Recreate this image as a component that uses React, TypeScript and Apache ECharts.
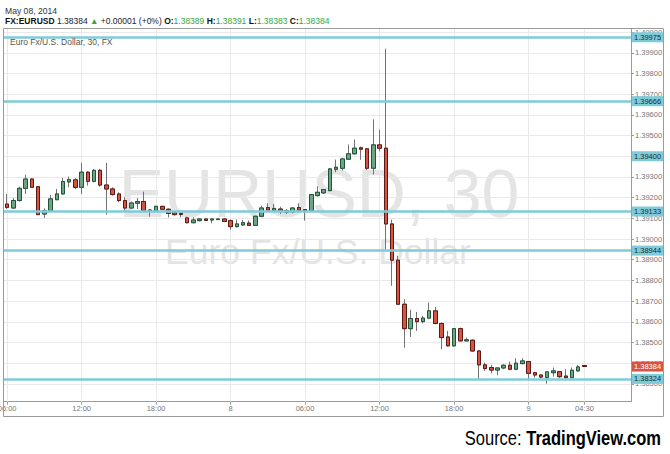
import React, { useEffect, useRef } from "react";
import * as echarts from "echarts";

const halfHours = [
  "00:00","00:30","01:00","01:30","02:00","02:30","03:00","03:30","04:00","04:30","05:00","05:30",
  "06:00","06:30","07:00","07:30","08:00","08:30","09:00","09:30","10:00","10:30","11:00","11:30",
  "12:00","12:30","13:00","13:30","14:00","14:30","15:00","15:30","16:00","16:30","17:00","17:30",
  "18:00","18:30","19:00","19:30","20:00","20:30","21:00","21:30","22:00","22:30","23:00","23:30",
];
const categories = [
  ...halfHours.slice(12).map((t) => "05-07 " + t),
  ...halfHours.map((t) => "05-08 " + t),
  ...halfHours.slice(0, 17).map((t) => "05-09 " + t),
];

const xTickCategories = ["05-07 06:00","05-07 12:00","05-07 18:00","05-08 00:00","05-08 06:00","05-08 12:00","05-08 18:00","05-09 00:00","05-09 04:30"];
const xTickLabels = ["06:00","12:00","18:00","8","06:00","12:00","18:00","9","04:30"];

const yTicks = [1.383,1.384,1.385,1.386,1.387,1.388,1.389,1.39,1.391,1.392,1.393,1.394,1.395,1.396,1.397,1.398,1.399,1.4];

const opens = [
  1.39169,1.39150,1.39186,1.39245,1.39290,1.39253,1.39121,1.39137,1.39190,1.39218,
  1.39276,1.39286,1.39250,1.39323,1.39279,1.39332,1.39261,1.39242,1.39218,1.39186,
  1.39150,1.39173,1.39181,1.39140,1.39136,1.39158,1.39144,1.39127,1.39124,1.39102,
  1.39079,1.39089,1.39097,1.39092,1.39094,1.39097,1.39089,1.39060,1.39068,1.39077,
  1.39066,1.39110,1.39152,1.39139,1.39145,1.39129,1.39131,1.39152,1.39142,1.39137,
  1.39210,1.39223,1.39234,1.39337,1.39342,1.39386,1.39412,1.39441,1.39436,1.39342,
  1.39455,1.39439,1.39073,1.38898,1.38685,1.38567,1.38616,1.38601,1.38618,1.38653,
  1.38592,1.38527,1.38484,1.38567,1.38508,1.38511,1.38459,1.38392,1.38379,1.38367,
  1.38377,1.38390,1.38371,1.38398,1.38408,1.38354,1.38343,1.38330,1.38354,1.38359,
  1.38338,1.38330,1.38363,1.38389,
];
const closes = [
  1.39153,1.39186,1.39245,1.39290,1.39250,1.39118,1.39137,1.39194,1.39218,1.39278,
  1.39287,1.39250,1.39323,1.39279,1.39332,1.39261,1.39242,1.39215,1.39186,1.39150,
  1.39174,1.39181,1.39137,1.39134,1.39158,1.39144,1.39124,1.39118,1.39119,1.39079,
  1.39092,1.39097,1.39090,1.39097,1.39097,1.39085,1.39060,1.39073,1.39079,1.39066,
  1.39110,1.39150,1.39140,1.39147,1.39134,1.39137,1.39150,1.39139,1.39137,1.39215,
  1.39226,1.39239,1.39339,1.39347,1.39387,1.39412,1.39439,1.39434,1.39342,1.39455,
  1.39439,1.39073,1.38898,1.38685,1.38567,1.38616,1.38601,1.38618,1.38653,1.38592,
  1.38524,1.38484,1.38567,1.38508,1.38513,1.38459,1.38392,1.38374,1.38367,1.38377,
  1.38390,1.38371,1.38400,1.38411,1.38351,1.38343,1.38333,1.38358,1.38363,1.38335,
  1.38330,1.38366,1.38382,1.38384,
];
const lows = [
  1.39145,1.39145,1.39181,1.39218,1.39250,1.39118,1.39102,1.39134,1.39189,1.39215,
  1.39250,1.39242,1.39218,1.39258,1.39274,1.39253,1.39118,1.39210,1.39178,1.39134,
  1.39145,1.39145,1.39134,1.39108,1.39132,1.39140,1.39105,1.39113,1.39105,1.39076,
  1.39076,1.39085,1.39087,1.39076,1.39092,1.39082,1.39045,1.39056,1.39064,1.39064,
  1.39064,1.39105,1.39137,1.39134,1.39121,1.39121,1.39124,1.39134,1.39089,1.39134,
  1.39205,1.39218,1.39231,1.39323,1.39331,1.39383,1.39408,1.39383,1.39334,1.39312,
  1.39424,1.38950,1.38774,1.38682,1.38475,1.38527,1.38556,1.38592,1.38613,1.38588,
  1.38467,1.38480,1.38480,1.38505,1.38505,1.38456,1.38320,1.38363,1.38351,1.38342,
  1.38371,1.38366,1.38366,1.38395,1.38322,1.38330,1.38325,1.38301,1.38335,1.38327,
  1.38327,1.38327,1.38359,1.38383,
];
const highs = [
  1.39218,1.39198,1.39253,1.39311,1.39294,1.39253,1.39148,1.39213,1.39242,1.39295,
  1.39302,1.39294,1.39368,1.39328,1.39339,1.39339,1.39368,1.39250,1.39226,1.39202,
  1.39181,1.39198,1.39229,1.39145,1.39161,1.39161,1.39148,1.39134,1.39127,1.39108,
  1.39105,1.39102,1.39099,1.39099,1.39100,1.39099,1.39094,1.39094,1.39092,1.39089,
  1.39113,1.39161,1.39173,1.39169,1.39156,1.39145,1.39153,1.39173,1.39144,1.39218,
  1.39255,1.39242,1.39342,1.39384,1.39392,1.39457,1.39481,1.39447,1.39439,1.39578,
  1.39529,1.39920,1.39094,1.38919,1.38710,1.38658,1.38648,1.38629,1.38693,1.38672,
  1.38597,1.38556,1.38569,1.38572,1.38524,1.38516,1.38463,1.38403,1.38392,1.38379,
  1.38395,1.38408,1.38424,1.38424,1.38411,1.38358,1.38346,1.38359,1.38379,1.38363,
  1.38371,1.38379,1.38392,1.38391,
];

const levelLines = [1.39975, 1.39666, 1.39133, 1.38944, 1.38324];
const levelLabelsOnly = [1.394];
const lastPrice = 1.38384;

const headerDate = "May 08, 2014";
const symbolName = "FX:EURUSD";
const changeText = "+0.00001 (+0%)";
const ohlcNames = ["O:", "H:", "L:", "C:"];
const ohlcValues = ["1.38389", "1.38391", "1.38383", "1.38384"];
const chartTitle = "Euro Fx/U.S. Dollar, 30, FX";
const watermark1 = "EURUSD, 30";
const watermark2 = "Euro Fx/U.S. Dollar";
const sourcePrefix = "Source: ";
const sourceName = "TradingView.com";

const FONT = "'Liberation Sans', Arial, sans-serif";
const GREEN_TXT = "#35a63c";
const CYAN = "#7fcbd9";
const AXIS_C = "#9a9a9a";
const GRID_C = "#e9e9e9";

const GRID = { left: 4, right: 39, top: 29, bottom: 52.3 };
const PLOT_W = 670 - GRID.left - GRID.right;
const PLOT_H = 454 - GRID.top - GRID.bottom;
const Y_MIN = 1.38214;
const Y_MAX = 1.40015;

const isTick = (_i: number, v: string) => xTickCategories.indexOf(v) >= 0;

export default function App() {
  const ref = useRef<HTMLDivElement>(null);
  useEffect(() => {
    if (!ref.current) return;
    const chart = echarts.init(ref.current, null, { renderer: "svg" });

    const candles = opens.map((o, i) => [o, closes[i], lows[i], highs[i]]);
    const bodies = opens.map((o, i) => [o, closes[i], Math.min(o, closes[i]), Math.max(o, closes[i])]);

    let header2 = `{b|${symbolName}} {n|${lastPrice.toFixed(5)}} {g|▲} {n|${changeText}}`;
    ohlcNames.forEach((n, i) => {
      header2 += ` {b|${n}}{g|${ohlcValues[i]}}`;
    });

    const option: any = {
      animation: false,
      backgroundColor: "#ffffff",
      textStyle: { fontFamily: FONT },
      grid: { ...GRID, containLabel: false, outerBoundsMode: "none" },
      xAxis: [
        {
          type: "category",
          data: categories,
          boundaryGap: true,
          position: "bottom",
          axisLine: { show: true, lineStyle: { color: AXIS_C } },
          axisTick: { show: true, alignWithLabel: true, length: 3, interval: isTick, lineStyle: { color: AXIS_C } },
          axisLabel: {
            interval: isTick,
            formatter: (v: string) => xTickLabels[xTickCategories.indexOf(v)] ?? "",
            fontSize: 7.5,
            color: "#777",
            margin: 3,
            fontFamily: FONT,
          },
          splitLine: { show: false },
        },
        {
          type: "category",
          data: categories,
          boundaryGap: true,
          position: "bottom",
          axisLine: { show: false },
          axisLabel: { show: false },
          axisTick: { show: true, inside: true, alignWithLabel: true, length: PLOT_H, interval: isTick, lineStyle: { color: GRID_C } },
          splitLine: { show: false },
        },
      ],
      yAxis: [
        {
          type: "value",
          position: "right",
          min: Y_MIN,
          max: Y_MAX,
          axisLine: { show: true, lineStyle: { color: AXIS_C } },
          axisTick: { show: true, length: 3, customValues: yTicks, lineStyle: { color: AXIS_C } },
          axisLabel: {
            customValues: yTicks,
            formatter: (v: number) => v.toFixed(5),
            fontSize: 7.5,
            color: "#777",
            margin: 4,
            fontFamily: FONT,
          },
          splitLine: { show: false },
        },
        {
          type: "value",
          position: "right",
          min: Y_MIN,
          max: Y_MAX,
          axisLine: { show: false },
          axisLabel: { show: false },
          axisTick: { show: true, inside: true, length: PLOT_W, customValues: yTicks, lineStyle: { color: GRID_C } },
          splitLine: { show: false },
        },
      ],
      series: [
        {
          type: "candlestick",
          name: "wicks",
          xAxisIndex: 0,
          yAxisIndex: 0,
          data: candles,
          barWidth: 4,
          z: 3,
          itemStyle: { color: "#737375", color0: "#737375", borderColor: "#737375", borderColor0: "#737375", borderWidth: 1 },
        },
        {
          type: "candlestick",
          name: "EURUSD",
          xAxisIndex: 0,
          yAxisIndex: 0,
          data: bodies,
          barWidth: 4,
          z: 4,
          itemStyle: { color: "#6ba583", color0: "#d75442", borderColor: "#225437", borderColor0: "#5b1a13", borderWidth: 1 },
          markLine: {
            silent: true,
            precision: 5,
            symbol: ["none", "none"],
            animation: false,
            lineStyle: { color: CYAN, width: 2.5, type: "solid" },
            label: {
              show: true,
              position: "end",
              distance: 1,
              formatter: (p: any) => Number(p.value).toFixed(5),
              backgroundColor: CYAN,
              color: "#1f2a2e",
              fontSize: 7.5,
              lineHeight: 8,
              padding: [1, 2, 1, 2],
              fontFamily: FONT,
              opacity: 1,
            },
            data: [
              ...levelLines.map((v) => ({ yAxis: v })),
              ...levelLabelsOnly.map((v) => ({ yAxis: v, lineStyle: { color: "rgba(0,0,0,0)", opacity: 0 }, label: { opacity: 1 } })),
              {
                yAxis: lastPrice,
                lineStyle: { color: "rgba(0,0,0,0)", opacity: 0 },
                label: { backgroundColor: "#d75442", color: "#ffffff", opacity: 1 },
              },
            ],
          },
        },
      ],
      graphic: [
        {
          type: "text",
          z: 0,
          x: 319,
          y: 193,
          silent: true,
          style: { text: watermark1, fill: "#e4e4e4", font: `68px ${FONT}`, align: "center", verticalAlign: "middle" },
        },
        {
          type: "text",
          z: 0,
          x: 318,
          y: 252,
          silent: true,
          style: { text: watermark2, fill: "#e4e4e4", font: `35.5px ${FONT}`, align: "center", verticalAlign: "middle" },
        },
        {
          type: "rect",
          z: 50,
          silent: true,
          shape: { x: 3.5, y: 28.5, width: 660, height: 388 },
          style: { fill: "none", stroke: AXIS_C, lineWidth: 1 },
        },
        {
          type: "text",
          z: 100,
          x: 5,
          y: 10.5,
          style: { text: headerDate, fill: "#333", font: `8.6px ${FONT}`, align: "left", verticalAlign: "middle" },
        },
        {
          type: "text",
          z: 100,
          x: 5,
          y: 20.5,
          style: {
            text: header2,
            font: `8.5px ${FONT}`,
            fill: "#222",
            align: "left",
            verticalAlign: "middle",
            rich: {
              b: { fontWeight: "bold", fill: "#111", fontSize: 8.5, fontFamily: FONT },
              n: { fill: "#222", fontSize: 8.5, fontFamily: FONT },
              g: { fill: GREEN_TXT, fontSize: 8.5, fontFamily: FONT },
            },
          },
        },
        {
          type: "text",
          z: 100,
          x: 10,
          y: 41.6,
          style: { text: chartTitle, fill: "#555", font: `8.5px ${FONT}`, align: "left", verticalAlign: "middle" },
        },
        {
          type: "text",
          z: 100,
          x: 661,
          y: 438,
          scaleX: 0.825,
          style: {
            text: `{n|${sourcePrefix}}{b|${sourceName}}`,
            align: "right",
            verticalAlign: "middle",
            fill: "#000",
            font: `20px ${FONT}`,
            rich: {
              n: { fill: "#000", fontSize: 20, fontFamily: FONT },
              b: { fill: "#000", fontSize: 20, fontWeight: "bold", fontFamily: FONT },
            },
          },
        },
      ],
    };

    chart.setOption(option);
    return () => chart.dispose();
  }, []);

  return (
    <div
      ref={ref}
      style={{ position: "absolute", left: 0, top: 0, width: 670, height: 454, background: "#fff" }}
    />
  );
}
